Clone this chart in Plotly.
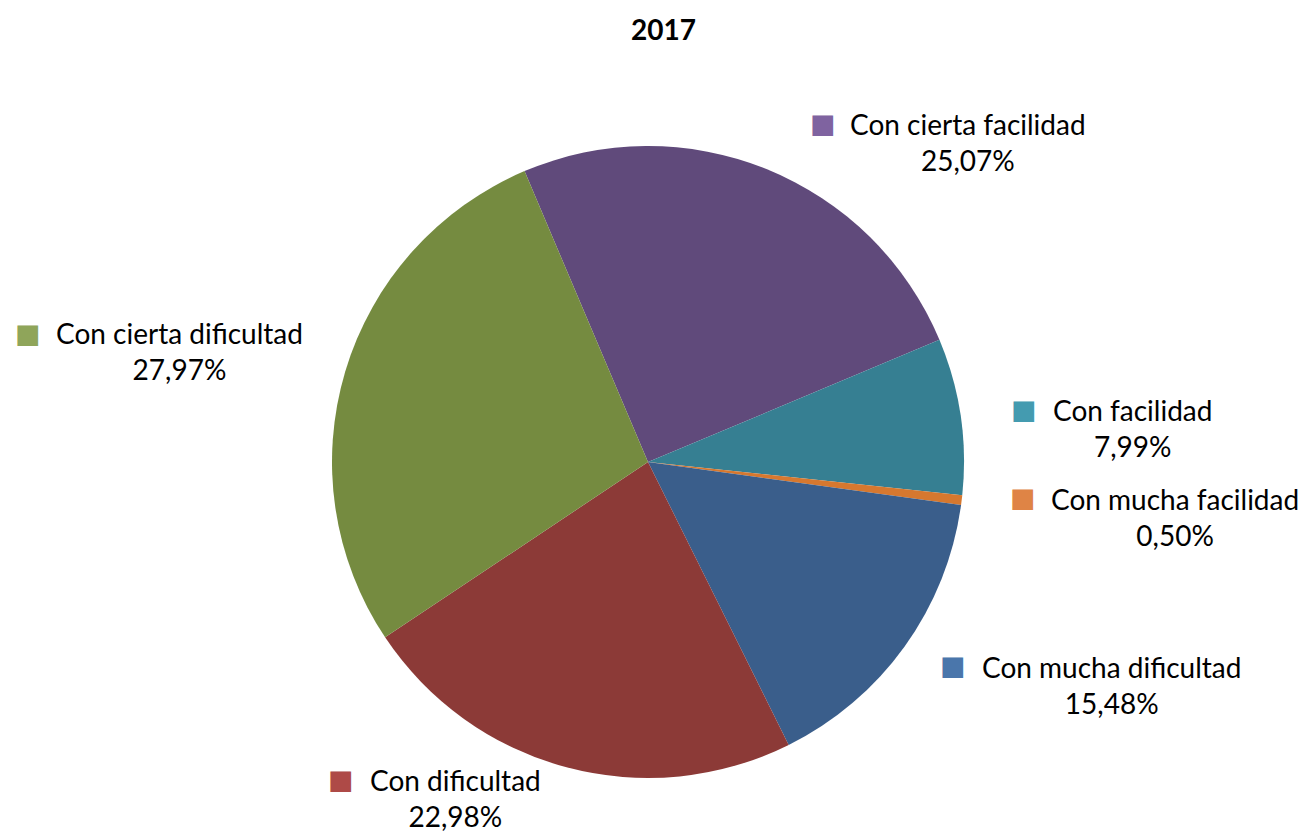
import plotly.graph_objects as go

# ---- data ----
categories = ["Con cierta facilidad", "Con facilidad", "Con mucha facilidad",
              "Con mucha dificultad", "Con dificultad", "Con cierta dificultad"]
values = [25.07, 7.99, 0.50, 15.48, 22.98, 27.97]
title_text = "2017"

# ---- styles ----
slice_colors = ["#604A7B", "#367F92", "#D6782F", "#3A5E8B", "#8C3A37", "#758B40"]
key_colors = ["#7F63A0", "#449BB0", "#DF8445", "#4A76AB", "#AE4A47", "#8FA55A"]
FONT = "Lato"

W, H = 1308, 833
OFF = 8  # page body margin offset

# label layout (page pixel positions): name-center x, block-middle y, key x, key y
label_pos = {
    "Con cierta facilidad": (968, 142, 823, 124),
    "Con facilidad": (1132, 428, 1024, 410),
    "Con mucha facilidad": (1175, 517, 1023, 497),
    "Con mucha dificultad": (1111, 685, 953, 665),
    "Con dificultad": (455, 798, 341, 779),
    "Con cierta dificultad": (179, 351, 28, 333),
}

cx, cy, r = 648 - OFF, 462 - OFF, 316


def px(x):
    return (x - OFF) / W


def py(y):
    return 1 - (y - OFF) / H


fig = go.Figure(go.Pie(
    labels=categories,
    values=values,
    sort=False,
    direction="clockwise",
    rotation=-23,
    marker=dict(colors=slice_colors, line=dict(width=0)),
    textinfo="none",
    hoverinfo="label+percent",
    showlegend=False,
    domain=dict(x=[(cx - r) / W, (cx + r) / W],
                y=[(H - cy - r) / H, (H - cy + r) / H]),
))

annotations = []
for name, v, kc in zip(categories, values, key_colors):
    x, y, kx, ky = label_pos[name]
    pct = f"{v:.2f}".replace(".", ",") + "%"
    annotations.append(dict(
        x=px(x), y=py(y), xref="paper", yref="paper",
        xanchor="center", yanchor="middle", showarrow=False,
        text=f"{name}<br>{pct}", align="center",
        font=dict(family=FONT, size=28, color="#000000"),
    ))
    annotations.append(dict(
        x=px(kx), y=py(ky), xref="paper", yref="paper",
        xanchor="center", yanchor="middle", showarrow=False,
        text="■", font=dict(family="DejaVu Sans", size=27, color=kc),
    ))

# title as a top-anchored annotation so it stays fully inside the canvas
annotations.append(dict(
    x=px(664), y=1, xref="paper", yref="paper",
    xanchor="center", yanchor="top", showarrow=False,
    yshift=-2,
    text=f"<b>{title_text}</b>",
    font=dict(family=FONT, size=28, color="#000000"),
))

fig.update_layout(
    width=W, height=H,
    margin=dict(l=0, r=0, t=0, b=0),
    paper_bgcolor="white", plot_bgcolor="white",
    annotations=annotations,
)

fig.write_html("out.html")
